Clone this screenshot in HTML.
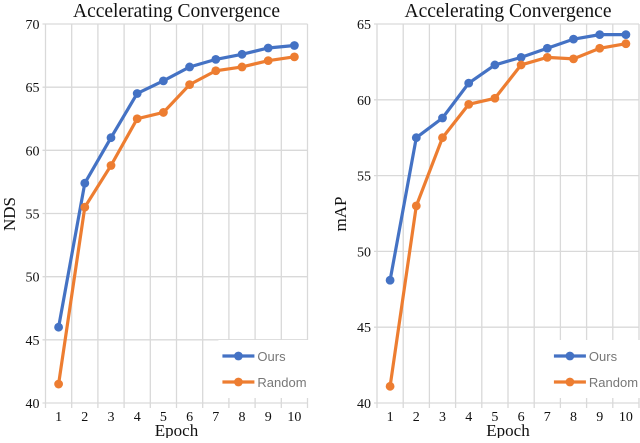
<!DOCTYPE html>
<html><head><meta charset="utf-8"><style>
body{margin:0;background:#fff;width:640px;height:438px;overflow:hidden}
svg text{font-family:"Liberation Serif",serif;fill:#111}
</style></head><body>
<svg id="s" width="640" height="438"></svg>
<script>
const epochs=[1,2,3,4,5,6,7,8,9,10];
const ndsOurs=[46,57.4,61,64.5,65.5,66.6,67.2,67.6,68.1,68.3];
const ndsRandom=[41.5,55.5,58.8,62.5,63,65.2,66.3,66.6,67.1,67.4];
const mapOurs=[48.1,57.5,58.8,61.1,62.3,62.8,63.4,64,64.3,64.3];
const mapRandom=[41.1,53,57.5,59.7,60.1,62.3,62.8,62.7,63.4,63.7];
const ndsTicks=[40,45,50,55,60,65,70];
const mapTicks=[40,45,50,55,60,65];
const NS="http://www.w3.org/2000/svg";
const svg=document.getElementById('s');
function mk(t,a,p){const e=document.createElementNS(NS,t);for(const k in a)e.setAttribute(k,a[k]);(p||svg).appendChild(e);return e;}
function chart(cfg){
  const g=mk('g',{});
  
  
  const L=cfg.left,bw=26.2,T=24,B=403,ymin=cfg.ticks[0],ymax=cfg.ticks[cfg.ticks.length-1];
  const R=L+bw*epochs.length;
  const x=i=>L+bw*(i+0.5);
  const y=v=>B-(v-ymin)/(ymax-ymin)*(B-T);
  for(let i=0;i<=epochs.length;i++){const l=mk('line',{x1:L+bw*i,x2:L+bw*i,y1:T,y2:B+5,stroke:'#d9d9d9','stroke-width':1.3},g);}
  cfg.ticks.forEach(t=>{const l=mk('line',{x1:L-3,x2:R,y1:y(t),y2:y(t),stroke:'#d9d9d9','stroke-width':1.3},g);
    const tx=mk('text',{x:L-6,y:y(t)+5,'text-anchor':'end','font-size':14},g);tx.textContent=t;});
  epochs.forEach((e,i)=>{const tx=mk('text',{x:x(i),y:B+18,'text-anchor':'middle','font-size':14},g);tx.textContent=e;});
  const lb=mk('rect',{x:L+bw*6.6,y:340,width:R-(L+bw*6.6)+4,height:58,fill:'#fff'},g);
  [[cfg.ours,'#4472c4','Ours',356],[cfg.rand,'#ed7d31','Random',382]].forEach(([d,c,n,ly])=>{
    const pl=mk('polyline',{points:d.map((v,i)=>x(i)+','+y(v)).join(' '),fill:'none',stroke:c,'stroke-width':3.2},g);
    
    d.forEach((v,i)=>{const p=mk('circle',{cx:x(i),cy:y(v),r:4.4,fill:c},g);});
    const lx=L+bw*6.6+4;
    const ll=mk('line',{x1:lx,x2:lx+32,y1:ly,y2:ly,stroke:c,'stroke-width':3.2},g);
    const lc=mk('circle',{cx:lx+16,cy:ly,r:4.4,fill:c},g);
    const lt=mk('text',{x:lx+35,y:ly+5,'font-size':13,style:'font-family:"Liberation Sans",sans-serif;fill:#777'},g);lt.textContent=n;
  });
  const ti=mk('text',{x:(L+R)/2,y:17,'text-anchor':'middle','font-size':19.5},g);ti.textContent='Accelerating Convergence';
  const xl=mk('text',{x:(L+R)/2,y:436,'text-anchor':'middle','font-size':17},g);xl.textContent='Epoch';
  const yl=mk('text',{x:0,y:0,'text-anchor':'middle','font-size':17,transform:`translate(${cfg.ylx},214) rotate(-90)`},g);yl.textContent=cfg.ylabel;
}
chart({name:'nds-chart',left:45.5,ticks:ndsTicks,ours:ndsOurs,rand:ndsRandom,ylabel:'NDS',ylx:15});
chart({name:'map-chart',left:377,ticks:mapTicks,ours:mapOurs,rand:mapRandom,ylabel:'mAP',ylx:346});
</script>
</body></html>
